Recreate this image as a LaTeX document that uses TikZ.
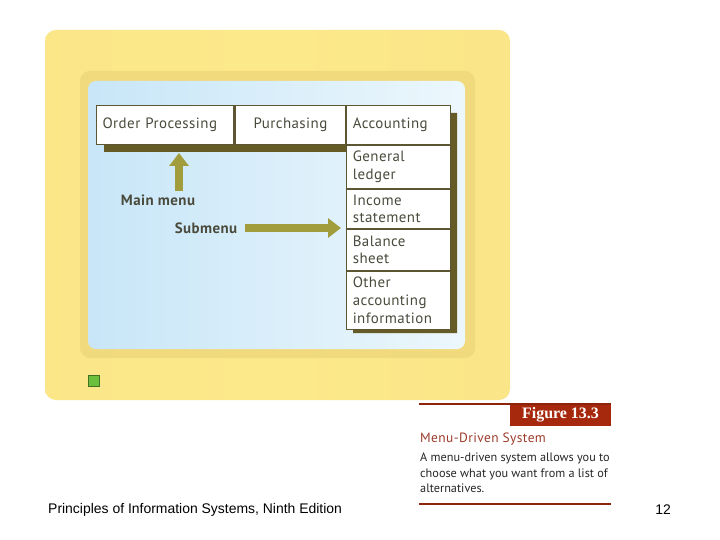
\documentclass[tikz,border=0pt]{standalone}
\usepackage{fontspec}
\setmainfont{PT Sans}
\newfontfamily\menufont[LetterSpace=3]{PT Sans}
\newfontfamily\footfont{Liberation Sans}
\newfontfamily\tagfont{Liberation Serif}
\usetikzlibrary{arrows.meta,positioning}

\definecolor{monitor}{HTML}{FCE98A}
\definecolor{monitordark}{HTML}{EDD47A}
\definecolor{bezel}{HTML}{F1D97E}
\definecolor{screenA}{HTML}{C8E6F8}
\definecolor{screenB}{HTML}{ECF7FC}
\definecolor{boxline}{HTML}{5C5632}
\definecolor{shadowcol}{HTML}{645B27}
\definecolor{menutext}{HTML}{4A4A3C}
\definecolor{arrowcol}{HTML}{A29D3C}
\definecolor{ledgreen}{HTML}{6CBF3C}
\definecolor{figred}{HTML}{A7290D}
\definecolor{captitle}{HTML}{9C3B2B}

\begin{document}
\begin{tikzpicture}[x=1bp,y=-1bp,
  menubox/.style={draw=boxline, line width=1.1pt, fill=white, inner xsep=6pt, inner ysep=0pt,
    align=left, anchor=north west, text=menutext, font=\menufont\fontsize{15}{18}\selectfont},
  menulabel/.style={text=menutext, font=\menufont\bfseries\fontsize{15}{16}\selectfont},
  bigarrow/.style={draw=arrowcol, line width=9pt, -{Triangle[width=19pt,length=13pt]}},
  capline/.style={draw=figred!85!black, line width=1.1pt}]
   \useasboundingbox (0,0) rectangle (720,540);

   % monitor
   \shade[rounded corners=11, left color=monitor!90!monitordark, right color=monitor!85!monitordark, middle color=monitor] (45,30) rectangle (510,400);
   \fill[bezel, rounded corners=10] (80,71) rectangle (475,358);
   \shade[rounded corners=8, left color=screenA, right color=screenB] (88,81) rectangle (465,349);
   \draw[ledgreen!60!black, fill=ledgreen, line width=0.8pt] (88,375) rectangle (99,386);

   % shadow of the menus
   \fill[shadowcol] (104,113) -- (457,113) -- (457,333) -- (353,333) -- (353,152) -- (104,152) -- cycle;

   % main menu
   \node[menubox, text width=126pt, minimum height=39pt] (order) at (96,105) {Order Processing};
   \node[menubox, text width=99pt, minimum height=39pt, align=center] (purch) at (order.north east) {Purchasing};
   \node[menubox, text width=92pt, minimum height=39pt] (acct) at (purch.north east) {Accounting};

   % submenu
   \node[menubox, text width=92pt, minimum height=43pt] (ledger) at (acct.south west) {General\\ledger};
   \node[menubox, text width=92pt, minimum height=39pt] (income) at (ledger.south west) {Income\\statement};
   \node[menubox, text width=92pt, minimum height=41pt] (balance) at (income.south west) {Balance\\sheet};
   \node[menubox, text width=92pt, minimum height=58pt] (other) at (balance.south west) {Other\\accounting\\information};

   \node[menulabel] (mainlbl) at (158,200) {Main menu};
   \node[menulabel] (sublbl) at (206,228) {Submenu};
   \coordinate (upbase) at (179,191);
   \coordinate (uptip) at (179,153);
   \coordinate (rightbase) at (245,228);
   \coordinate (righttip) at (341,228);
   \draw[bigarrow] (upbase) -- (uptip);
   \draw[bigarrow] (rightbase) -- (righttip);

   % caption
   \node[fill=figred, text=white, font=\tagfont\bfseries\fontsize{16}{18}\selectfont, minimum width=101pt,
     minimum height=22pt, inner sep=0pt, anchor=north east] (figtag) at (611,404) {Figure 13.3};
   \coordinate (topline) at (419,404);
   \draw[capline] (topline) -- (figtag.north east);
   \node[anchor=west, inner sep=0pt, text=captitle, font=\menufont\fontsize{13.5}{15}\selectfont] (captitle) at (420,439) {Menu-Driven System};
   \node[anchor=north west, inner sep=0pt, text=black!85, align=left, font=\fontsize{12.3}{15.5}\selectfont] (capbody) at (420,453)
     {A menu-driven system allows you to\\choose what you want from a list of\\alternatives.};
   \coordinate (botleft) at (419,504);
   \coordinate (botright) at (611,504);
   \draw[capline] (botleft) -- (botright);

   % footer
   \node[anchor=west, inner sep=0pt, font=\footfont\fontsize{14}{16}\selectfont] (footer) at (48,510) {Principles of Information Systems, Ninth Edition};
   \node[inner sep=0pt, font=\footfont\fontsize{14}{16}\selectfont] (pagenum) at (663,510) {12};
\end{tikzpicture}
\end{document}
